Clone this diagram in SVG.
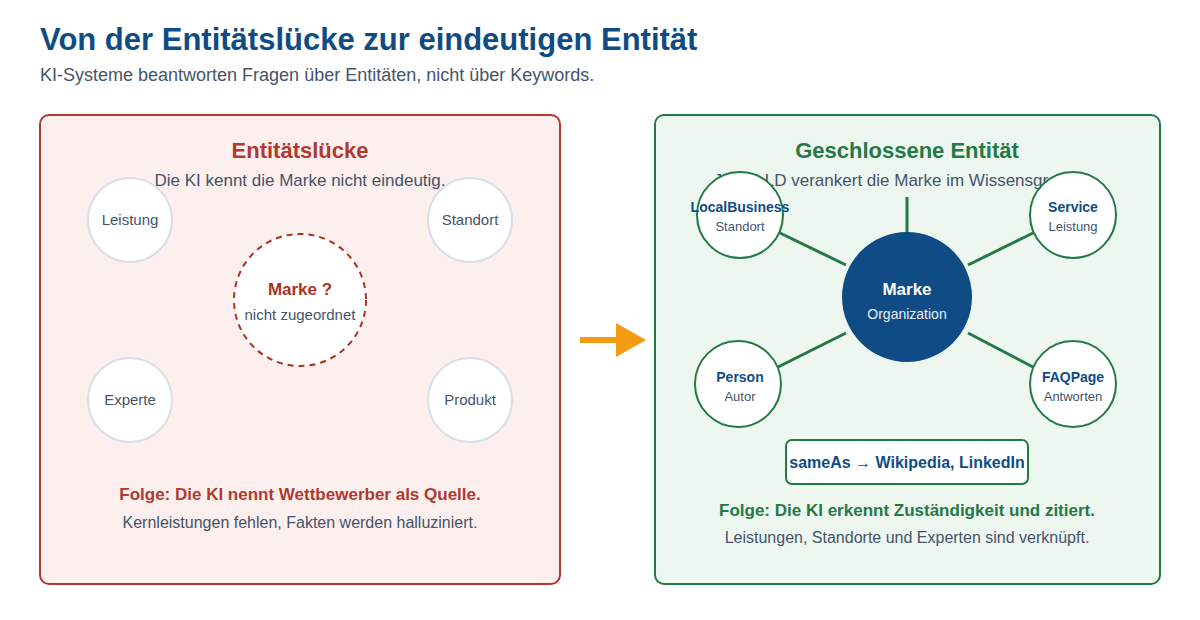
<svg xmlns="http://www.w3.org/2000/svg" width="1200" height="620" viewBox="0 0 1200 620">
<style>
text{font-family:"Liberation Sans",Arial,sans-serif}
.sub{font-size:17px;fill:#44546a;text-anchor:middle}
.grey{fill:#fff;stroke:#d9dee8;stroke-width:2}
.gn{fill:#fff;stroke:#237a46;stroke-width:2}
.lbl{font-size:15px;fill:#44546a;text-anchor:middle}
.sm{font-size:13px;fill:#44546a;text-anchor:middle}
.bl{font-size:14px;font-weight:bold;fill:#0f4c85;text-anchor:middle}
.edge{stroke:#237a46;stroke-width:3}
</style>
<rect width="1200" height="620" fill="#fff"/>
<text x="40" y="50" font-size="31" font-weight="bold" fill="#0f4c85">Von der Entitätslücke zur eindeutigen Entität</text>
<text x="40" y="81" font-size="18" fill="#44546a">KI-Systeme beantworten Fragen über Entitäten, nicht über Keywords.</text>

<g id="panel-left">
<rect x="40" y="115" width="520" height="469" rx="9" fill="#fcefee" stroke="#b03a2e" stroke-width="2"/>
<text x="300" y="158" font-size="22" font-weight="bold" fill="#b03a2e" text-anchor="middle">Entitätslücke</text>
<text x="300" y="186" class="sub">Die KI kennt die Marke nicht eindeutig.</text>
<text x="300" y="500" font-size="17" font-weight="bold" fill="#b03a2e" text-anchor="middle">Folge: Die KI nennt Wettbewerber als Quelle.</text>
<text x="300" y="528" font-size="16" fill="#44546a" text-anchor="middle">Kernleistungen fehlen, Fakten werden halluziniert.</text>
</g>
<g id="n-leistung"><circle cx="130" cy="220" r="42" class="grey"/><text x="130" y="225" class="lbl">Leistung</text></g>
<g id="n-standort"><circle cx="470" cy="220" r="42" class="grey"/><text x="470" y="225" class="lbl">Standort</text></g>
<g id="n-experte"><circle cx="130" cy="400" r="42" class="grey"/><text x="130" y="405" class="lbl">Experte</text></g>
<g id="n-produkt"><circle cx="470" cy="400" r="42" class="grey"/><text x="470" y="405" class="lbl">Produkt</text></g>
<g id="n-marke-q"><circle cx="300" cy="300" r="66" fill="#fff" stroke="#a93226" stroke-width="2" stroke-dasharray="6,5"/>
<text x="300" y="295" font-size="17" font-weight="bold" fill="#a93226" text-anchor="middle">Marke ?</text>
<text x="300" y="320" font-size="15" fill="#44546a" text-anchor="middle">nicht zugeordnet</text></g>

<g id="arrow"><line x1="580" y1="340" x2="620" y2="340" stroke="#f39c12" stroke-width="6"/><polygon points="616,323 646,340 616,357" fill="#f39c12"/></g>

<g id="panel-right">
<rect x="655" y="115" width="505" height="469" rx="9" fill="#eef6f0" stroke="#237a46" stroke-width="2"/>
<text x="907" y="158" font-size="22" font-weight="bold" fill="#237a46" text-anchor="middle">Geschlossene Entität</text>
<text x="907" y="186" class="sub">JSON-LD verankert die Marke im Wissensgraphen.</text>
<text x="907" y="516" font-size="17" font-weight="bold" fill="#237a46" text-anchor="middle">Folge: Die KI erkennt Zuständigkeit und zitiert.</text>
<text x="907" y="543" font-size="16" fill="#44546a" text-anchor="middle">Leistungen, Standorte und Experten sind verknüpft.</text>
</g>
<g id="connectors">
<line x1="907" y1="197" x2="907" y2="233" class="edge"/>
<line x1="780" y1="233" x2="846" y2="265" class="edge"/>
<line x1="1033" y1="233" x2="968" y2="265" class="edge"/>
<line x1="778" y1="367" x2="846" y2="333" class="edge"/>
<line x1="1033" y1="367" x2="968" y2="333" class="edge"/>
</g>
<g id="n-local"><circle cx="740" cy="215" r="43" class="gn"/><text x="740" y="212" class="bl">LocalBusiness</text><text x="740" y="231" class="sm">Standort</text></g>
<g id="n-service"><circle cx="1073" cy="215" r="43" class="gn"/><text x="1073" y="212" class="bl">Service</text><text x="1073" y="231" class="sm">Leistung</text></g>
<g id="n-person"><circle cx="738" cy="384" r="43" class="gn"/><text x="740" y="382" class="bl">Person</text><text x="740" y="401" class="sm">Autor</text></g>
<g id="n-faq"><circle cx="1073" cy="384" r="43" class="gn"/><text x="1073" y="382" class="bl">FAQPage</text><text x="1073" y="401" class="sm">Antworten</text></g>
<g id="n-marke"><circle cx="907" cy="297" r="65" fill="#0f4c85"/><text x="907" y="295" font-size="17" font-weight="bold" fill="#fff" text-anchor="middle">Marke</text><text x="907" y="319" font-size="14" fill="#e8eef6" text-anchor="middle">Organization</text></g>
<g id="n-sameas"><rect x="786" y="440" width="242" height="44" rx="6" fill="#fff" stroke="#237a46" stroke-width="2"/><text x="907" y="468" class="bl" style="font-size:16px">sameAs → Wikipedia, LinkedIn</text></g>
</svg>
